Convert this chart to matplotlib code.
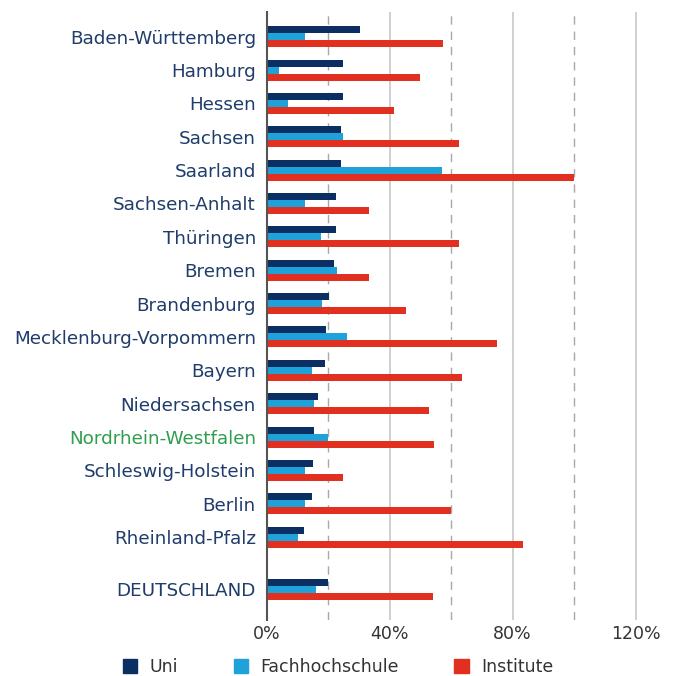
import numpy as np
import matplotlib
matplotlib.use("Agg")
from matplotlib import pyplot as plt
from matplotlib.patches import Patch

states = ["Baden-Württemberg", "Hamburg", "Hessen", "Sachsen", "Saarland",
          "Sachsen-Anhalt", "Thüringen", "Bremen", "Brandenburg",
          "Mecklenburg-Vorpommern", "Bayern", "Niedersachsen",
          "Nordrhein-Westfalen", "Schleswig-Holstein", "Berlin",
          "Rheinland-Pfalz", "DEUTSCHLAND"]
uni = [30.2, 24.8, 24.6, 24.0, 24.0, 22.4, 22.4, 21.8, 20.2, 19.1, 18.9,
       16.7, 15.3, 15.1, 14.7, 12.1, 19.7]
fachhochschule = [12.4, 4.0, 6.9, 24.8, 57.1, 12.4, 17.5, 22.9, 18.0, 26.1,
                  14.5, 15.3, 19.7, 12.4, 12.4, 10.2, 15.9]
institute = [57.3, 49.9, 41.5, 62.5, 100.0, 33.2, 62.5, 33.2, 45.3, 75.0,
             63.6, 52.9, 54.4, 24.8, 59.8, 83.4, 54.2]
series_names = ["Uni", "Fachhochschule", "Institute"]
solid_grid = [40, 80, 120]
dashed_grid = [20, 60, 100]
xtick_vals = [0, 40, 80, 120]
xtick_labels = ["0%", "40%", "80%", "120%"]

c_uni = "#0b2f62"
c_fh = "#1ea2d9"
c_inst = "#e1301f"
c_label = "#1f3c6b"
c_green = "#2f9e4e"
c_text = "#333333"

# group positions, Deutschland set apart from the Länder
ypos = np.arange(len(states), dtype=float)
ypos[-1] = 16.56
h = 0.21

fig = plt.figure(figsize=(6.75, 6.76), dpi=100)
ax = fig.add_axes([0.3956, 0.083, 0.555, 0.899])

for v in solid_grid:
    ax.axvline(v, color="#c4c4c4", lw=1.1, zorder=0)
for v in dashed_grid:
    ax.axvline(v, color="#a8a8a8", lw=1.0, ls=(0, (6, 5)), zorder=0)

ax.barh(ypos - h, uni, height=h, color=c_uni, zorder=2)
ax.barh(ypos, fachhochschule, height=h, color=c_fh, zorder=2)
ax.barh(ypos + h, institute, height=h, color=c_inst, zorder=2)

ax.set_xlim(0, 122)
ax.set_ylim(17.48, -0.734)

for s in ["top", "right", "bottom"]:
    ax.spines[s].set_visible(False)
ax.spines["left"].set_color("#555555")
ax.spines["left"].set_linewidth(1.5)

ax.set_yticks(ypos)
ax.set_yticklabels(states, fontsize=13.2, color=c_label)
ax.get_yticklabels()[12].set_color(c_green)
ax.set_xticks(xtick_vals)
ax.set_xticklabels(xtick_labels, fontsize=12.5, color=c_text)
ax.tick_params(axis="y", length=0, pad=8)
ax.tick_params(axis="x", length=0, pad=4)

handles = [Patch(color=c) for c in (c_uni, c_fh, c_inst)]
fig.legend(handles, series_names, loc="center", bbox_to_anchor=(0.501, 0.013),
           ncol=3, frameon=False, fontsize=12.5, handlelength=0.84,
           handleheight=0.84, handletextpad=0.7, columnspacing=3.2,
           labelcolor=c_text)

fig.savefig("out.png", dpi=100)
